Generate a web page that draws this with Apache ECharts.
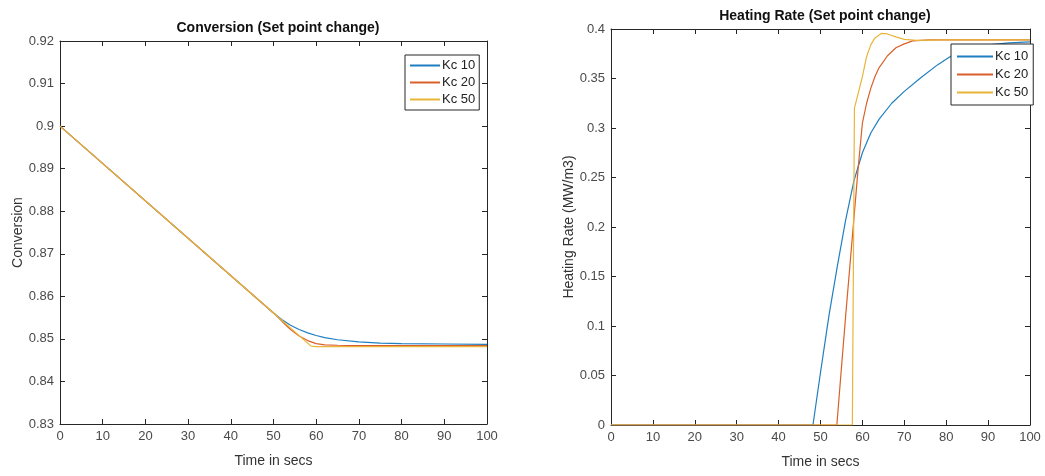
<!DOCTYPE html>
<html>
<head>
<meta charset="utf-8">
<script src="https://cdn.jsdelivr.net/npm/echarts@6/dist/echarts.min.js"></script>
<style>html,body{margin:0;padding:0;background:#fff;}#c{width:1045px;height:476px;}</style>
</head>
<body>
<div id="c"></div>
<script>
// ---- Data ----
var seriesNames = ['Kc 10', 'Kc 20', 'Kc 50'];
var xTicks = [0, 10, 20, 30, 40, 50, 60, 70, 80, 90, 100];
var convTicks = [0.83, 0.84, 0.85, 0.86, 0.87, 0.88, 0.89, 0.9, 0.91, 0.92];
var heatTicks = [0, 0.05, 0.1, 0.15, 0.2, 0.25, 0.3, 0.35, 0.4];

// Conversion
var convTimeKc10 = [0, 50, 52, 54, 56, 58, 60, 62, 65, 70, 75, 80, 90, 100];
var convKc10     = [0.9, 0.8561, 0.8545, 0.8532, 0.8522, 0.8514, 0.8508, 0.8503, 0.8498, 0.8493, 0.8490, 0.8489, 0.8488, 0.8487];
var convTimeKc20 = [0, 50, 52, 54, 56, 58, 60, 62, 65, 70, 100];
var convKc20     = [0.9, 0.8561, 0.8541, 0.8522, 0.8507, 0.8496, 0.8489, 0.8486, 0.8485, 0.8484, 0.8484];
var convTimeKc50 = [0, 50, 58.8, 60, 100];
var convKc50     = [0.9, 0.8561, 0.8483, 0.8482, 0.8482];

// Heating rate
var heatTimeKc10 = [0, 48.2, 50, 52, 54, 56, 58, 60, 62, 64, 67, 70, 74, 78, 82, 86, 90, 95, 100];
var heatKc10     = [0, 0, 0.053, 0.11, 0.16, 0.207, 0.247, 0.275, 0.295, 0.309, 0.325, 0.337, 0.351, 0.364, 0.375, 0.381, 0.384, 0.386, 0.387];
var heatTimeKc20 = [0, 53.9, 55, 56, 57, 58, 59, 60, 61, 62, 63, 64, 66, 68, 70, 72, 76, 100];
var heatKc20     = [0, 0, 0.058, 0.11, 0.16, 0.21, 0.26, 0.305, 0.325, 0.34, 0.352, 0.361, 0.373, 0.381, 0.385, 0.388, 0.389, 0.389];
var heatTimeKc50 = [0, 57.6, 58.1, 59, 60, 61, 62, 63, 64.5, 66, 68, 70, 73, 80, 100];
var heatKc50     = [0, 0, 0.32, 0.335, 0.352, 0.372, 0.384, 0.391, 0.3955, 0.395, 0.392, 0.3895, 0.3885, 0.389, 0.389];

function pairs(t, v) { return t.map(function (x, i) { return [x, v[i]]; }); }

var colors = ['#1f7fc0', '#d9602a', '#e9b43a'];
var labelColor = '#4a4a4a';
var fontFam = 'Liberation Sans, Arial, Helvetica, sans-serif';

function xAx(grid, show) {
  return {
    type: 'value', gridIndex: grid, min: xTicks[0], max: xTicks[xTicks.length - 1], interval: 10,
    position: show ? 'bottom' : 'top',
    name: show ? 'Time in secs' : '', nameLocation: 'middle', nameGap: 30,
    nameTextStyle: { color: '#333', fontSize: 14, fontFamily: fontFam },
    axisLine: { show: true, onZero: false, lineStyle: { color: '#262626', width: 1 } },
    axisTick: { show: true, inside: true, length: 5, lineStyle: { color: '#262626' } },
    axisLabel: { show: show, color: labelColor, fontSize: 13, fontFamily: fontFam, margin: 6 },
    splitLine: { show: false }
  };
}
function yAx(grid, show, ticks, interval, name, gap) {
  return {
    type: 'value', gridIndex: grid, min: ticks[0], max: ticks[ticks.length - 1], interval: interval,
    position: show ? 'left' : 'right',
    name: show ? name : '', nameLocation: 'middle', nameGap: gap, nameRotate: 90,
    nameTextStyle: { color: '#333', fontSize: 14, fontFamily: fontFam },
    axisLine: { show: true, onZero: false, lineStyle: { color: '#262626', width: 1 } },
    axisTick: { show: true, inside: true, length: 5, lineStyle: { color: '#262626' } },
    axisLabel: { show: show, color: labelColor, fontSize: 13, fontFamily: fontFam, margin: 6,
      formatter: function (v) { return String(parseFloat(v.toFixed(4))); } },
    splitLine: { show: false }
  };
}
function line(name, idx, grid, data) {
  return {
    name: name, type: 'line', xAxisIndex: grid * 2, yAxisIndex: grid * 2,
    data: data, showSymbol: false, symbol: 'none', smooth: false,
    lineStyle: { color: colors[idx], width: 1.2 }, itemStyle: { color: colors[idx] },
    animation: false
  };
}

var chart = echarts.init(document.getElementById('c'));
chart.setOption({
  backgroundColor: '#fff',
  animation: false,
  title: [
    { text: 'Conversion (Set point change)', left: 273, top: 16, textAlign: 'center',
      textStyle: { fontSize: 14, fontWeight: 'bold', color: '#111', fontFamily: fontFam } },
    { text: 'Heating Rate (Set point change)', left: 820, top: 4, textAlign: 'center',
      textStyle: { fontSize: 14, fontWeight: 'bold', color: '#111', fontFamily: fontFam } }
  ],
  legend: [
    { data: seriesNames, orient: 'vertical', left: 405, top: 55, itemWidth: 30, itemHeight: 2, itemGap: 4,
      icon: 'rect', backgroundColor: '#fff', borderColor: '#262626', borderWidth: 1, padding: [4, 4, 4, 5],
      textStyle: { fontSize: 13, color: '#222', fontFamily: fontFam, padding: [0, 0, 0, -3] },
      selectedMode: false },
    { data: seriesNames.slice(), orient: 'vertical', left: 951, top: 44, itemWidth: 36, itemHeight: 2, itemGap: 5,
      icon: 'rect', backgroundColor: '#fff', borderColor: '#262626', borderWidth: 1, padding: [6, 5, 6, 6],
      textStyle: { fontSize: 13, color: '#222', fontFamily: fontFam, padding: [0, 0, 0, -3] },
      selectedMode: false }
  ],
  grid: [
    { left: 60, right: 558, top: 41, bottom: 52, show: false },
    { left: 611, right: 15, top: 29, bottom: 51, show: false }
  ],
  xAxis: [xAx(0, true), xAx(0, false), xAx(1, true), xAx(1, false)],
  yAxis: [
    yAx(0, true, convTicks, 0.01, 'Conversion', 34), yAx(0, false, convTicks, 0.01, '', 0),
    yAx(1, true, heatTicks, 0.05, 'Heating Rate (MW/m3)', 34), yAx(1, false, heatTicks, 0.05, '', 0)
  ],
  series: [
    line('Kc 10', 0, 0, pairs(convTimeKc10, convKc10)),
    line('Kc 20', 1, 0, pairs(convTimeKc20, convKc20)),
    line('Kc 50', 2, 0, pairs(convTimeKc50, convKc50)),
    line('Kc 10', 0, 1, pairs(heatTimeKc10, heatKc10)),
    line('Kc 20', 1, 1, pairs(heatTimeKc20, heatKc20)),
    line('Kc 50', 2, 1, pairs(heatTimeKc50, heatKc50))
  ]
});
</script>
</body>
</html>
